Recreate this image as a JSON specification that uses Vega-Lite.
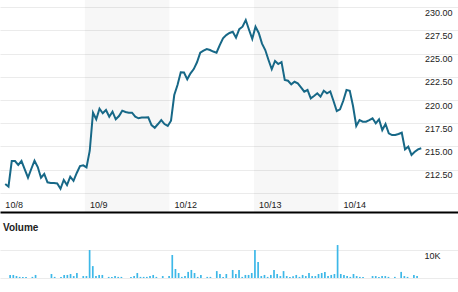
{
  "$schema": "https://vega.github.io/schema/vega-lite/v6.json",
  "padding": 0,
  "background": "white",
  "spacing": 11,
  "config": {
    "view": {"stroke": null},
    "font": "Liberation Sans",
    "axis": {"labelFont": "Liberation Sans", "labelColor": "#222222", "labelFontSize": 9}
  },
  "datasets": {
    "sessions": [
      {"day": "10/9", "start": 25.5, "end": 51.5},
      {"day": "10/13", "start": 77.5, "end": 103.5}
    ],
    "ticks": [
      {"i": 1, "p": 210.94, "v": 1100}, {"i": 2, "p": 210.65, "v": 1100}, {"i": 3, "p": 213.42, "v": 700}, {"i": 4, "p": 213.42, "v": 400}, {"i": 5, "p": 212.99, "v": 400},
      {"i": 6, "p": 213.42, "v": 400}, {"i": 7, "p": 212.52, "v": 0}, {"i": 8, "p": 211.62, "v": 400}, {"i": 9, "p": 212.56, "v": 1100}, {"i": 10, "p": 213.45, "v": 0},
      {"i": 11, "p": 212.77, "v": 0}, {"i": 12, "p": 211.62, "v": 0}, {"i": 13, "p": 212.02, "v": 0}, {"i": 14, "p": 211.12, "v": 1450}, {"i": 15, "p": 211.05, "v": 400},
      {"i": 16, "p": 211.05, "v": 0}, {"i": 17, "p": 211.0, "v": 400}, {"i": 18, "p": 210.43, "v": 1100}, {"i": 19, "p": 211.37, "v": 1100}, {"i": 20, "p": 210.83, "v": 1450},
      {"i": 21, "p": 211.73, "v": 700}, {"i": 22, "p": 211.29, "v": 1800}, {"i": 23, "p": 212.13, "v": 0}, {"i": 24, "p": 212.88, "v": 700}, {"i": 25, "p": 212.96, "v": 700},
      {"i": 26, "p": 212.74, "v": 10100}, {"i": 27, "p": 214.53, "v": 4300}, {"i": 28, "p": 218.63, "v": 700}, {"i": 29, "p": 217.92, "v": 1100}, {"i": 30, "p": 219.06, "v": 1100},
      {"i": 31, "p": 218.57, "v": 0}, {"i": 32, "p": 218.92, "v": 400}, {"i": 33, "p": 218.2, "v": 400}, {"i": 34, "p": 218.74, "v": 700}, {"i": 35, "p": 217.92, "v": 400},
      {"i": 36, "p": 218.27, "v": 400}, {"i": 37, "p": 218.85, "v": 0}, {"i": 38, "p": 218.71, "v": 0}, {"i": 39, "p": 218.63, "v": 400}, {"i": 40, "p": 218.63, "v": 700},
      {"i": 41, "p": 218.2, "v": 1800}, {"i": 42, "p": 218.03, "v": 400}, {"i": 43, "p": 218.11, "v": 400}, {"i": 44, "p": 218.12, "v": 400}, {"i": 45, "p": 218.13, "v": 700},
      {"i": 46, "p": 217.3, "v": 1100}, {"i": 47, "p": 217.01, "v": 400}, {"i": 48, "p": 217.41, "v": 0}, {"i": 49, "p": 217.84, "v": 700}, {"i": 50, "p": 217.41, "v": 0},
      {"i": 51, "p": 217.2, "v": 700},
      {"i": 52, "p": 217.77, "v": 8300}, {"i": 53, "p": 220.54, "v": 3250}, {"i": 54, "p": 221.62, "v": 1800}, {"i": 55, "p": 222.99, "v": 400}, {"i": 56, "p": 222.97, "v": 700},
      {"i": 57, "p": 222.23, "v": 2200}, {"i": 58, "p": 222.88, "v": 2900}, {"i": 59, "p": 223.34, "v": 1800}, {"i": 60, "p": 224.07, "v": 400}, {"i": 61, "p": 225.1, "v": 1100},
      {"i": 62, "p": 225.32, "v": 0}, {"i": 63, "p": 225.5, "v": 400}, {"i": 64, "p": 225.39, "v": 400}, {"i": 65, "p": 225.23, "v": 0}, {"i": 66, "p": 225.1, "v": 2500},
      {"i": 67, "p": 225.93, "v": 1450}, {"i": 68, "p": 226.66, "v": 400}, {"i": 69, "p": 227.01, "v": 1450}, {"i": 70, "p": 227.23, "v": 0}, {"i": 71, "p": 227.37, "v": 2900},
      {"i": 72, "p": 226.72, "v": 1450}, {"i": 73, "p": 227.64, "v": 2900}, {"i": 74, "p": 227.91, "v": 400}, {"i": 75, "p": 228.63, "v": 1100}, {"i": 76, "p": 227.58, "v": 1100},
      {"i": 77, "p": 226.6, "v": 1800},
      {"i": 78, "p": 227.91, "v": 10100}, {"i": 79, "p": 227.23, "v": 5800}, {"i": 80, "p": 226.08, "v": 700}, {"i": 81, "p": 225.39, "v": 1100}, {"i": 82, "p": 224.32, "v": 400},
      {"i": 83, "p": 223.32, "v": 1100}, {"i": 84, "p": 224.21, "v": 2900}, {"i": 85, "p": 223.88, "v": 1450}, {"i": 86, "p": 224.1, "v": 700}, {"i": 87, "p": 222.16, "v": 2500},
      {"i": 88, "p": 222.08, "v": 700}, {"i": 89, "p": 221.69, "v": 400}, {"i": 90, "p": 221.97, "v": 600}, {"i": 91, "p": 221.8, "v": 1100}, {"i": 92, "p": 221.37, "v": 400},
      {"i": 93, "p": 220.9, "v": 1100}, {"i": 94, "p": 221.08, "v": 700}, {"i": 95, "p": 220.18, "v": 1800}, {"i": 96, "p": 220.43, "v": 700}, {"i": 97, "p": 220.72, "v": 700},
      {"i": 98, "p": 220.36, "v": 1450}, {"i": 99, "p": 221.0, "v": 1800}, {"i": 100, "p": 220.72, "v": 2200}, {"i": 101, "p": 220.92, "v": 700}, {"i": 102, "p": 219.89, "v": 1100},
      {"i": 103, "p": 218.81, "v": 1450},
      {"i": 104, "p": 219.0, "v": 11900}, {"i": 105, "p": 219.92, "v": 1450}, {"i": 106, "p": 221.08, "v": 1100}, {"i": 107, "p": 221.0, "v": 700}, {"i": 108, "p": 219.35, "v": 400},
      {"i": 109, "p": 217.2, "v": 1450}, {"i": 110, "p": 217.84, "v": 700}, {"i": 111, "p": 217.66, "v": 400}, {"i": 112, "p": 217.66, "v": 400}, {"i": 113, "p": 217.84, "v": 0},
      {"i": 114, "p": 218.03, "v": 0}, {"i": 115, "p": 217.49, "v": 700}, {"i": 116, "p": 217.92, "v": 700}, {"i": 117, "p": 216.76, "v": 400}, {"i": 118, "p": 217.41, "v": 700},
      {"i": 119, "p": 216.41, "v": 700}, {"i": 120, "p": 216.22, "v": 400}, {"i": 121, "p": 216.22, "v": 0}, {"i": 122, "p": 216.33, "v": 400}, {"i": 123, "p": 216.47, "v": 0},
      {"i": 124, "p": 214.68, "v": 2200}, {"i": 125, "p": 214.96, "v": 700}, {"i": 126, "p": 214.07, "v": 400}, {"i": 127, "p": 214.42, "v": 0}, {"i": 128, "p": 214.68, "v": 1100},
      {"i": 129, "p": 214.79, "v": 700}
    ]
  },
  "vconcat": [
    {
      "width": 458,
      "height": 212,
      "layer": [
        {
          "data": {"name": "sessions"},
          "mark": {"type": "rect", "color": "#000000", "opacity": 0.032},
          "encoding": {
            "x": {
              "field": "start", "type": "quantitative",
              "scale": {"domain": [-0.615, 140.3], "nice": false, "zero": false},
              "axis": {
                "orient": "bottom", "title": null,
                "values": [-0.5, 25.5, 51.5, 77.5, 103.5],
                "labelExpr": "datum.value < 0 ? '10/8' : datum.value < 30 ? '10/9' : datum.value < 60 ? '10/12' : datum.value < 90 ? '10/13' : '10/14'",
                "grid": false, "ticks": false, "tickSize": 0,
                "domainColor": "#000000", "domainWidth": 2,
                "labelPadding": -5, "labelBaseline": "alphabetic", "labelAlign": "left", "labelOffset": 4.5,
                "labelFlush": false, "labelOverlap": false, "labelBound": false
              }
            },
            "x2": {"field": "end"}
          }
        },
        {
          "data": {"name": "ticks"},
          "mark": {"type": "line", "color": "#176887", "strokeWidth": 2},
          "encoding": {
            "x": {"field": "i", "type": "quantitative"},
            "y": {
              "field": "p", "type": "quantitative",
              "scale": {"domain": [207.92, 230.79], "nice": false, "zero": false},
              "axis": {
                "orient": "right", "title": null,
                "values": [210, 212.5, 215, 217.5, 220, 222.5, 225, 227.5, 230],
                "labelExpr": "datum.value < 211 ? '' : format(datum.value, '.2f')",
                "grid": true, "gridColor": "#ebebeb", "gridWidth": 1,
                "ticks": false, "tickSize": 0, "domain": false,
                "labelAlign": "right", "labelBaseline": "top", "labelPadding": -6, "labelOffset": 1,
                "labelFlush": false, "labelOverlap": false, "labelBound": false
              }
            }
          }
        }
      ]
    },
    {
      "width": 458,
      "height": 37,
      "title": {"text": "Volume", "anchor": "start", "fontSize": 10, "fontWeight": "bold", "color": "#222222", "font": "Liberation Sans", "dx": 3, "offset": 8},
      "data": {"name": "ticks"},
      "mark": {"type": "bar", "color": "#3db8e8", "width": 1.7},
      "encoding": {
        "x": {"field": "i", "type": "quantitative", "scale": {"domain": [-0.615, 140.3], "nice": false, "zero": false}, "axis": null},
        "y": {
          "field": "v", "type": "quantitative",
          "scale": {"domain": [0, 13357], "nice": false},
          "axis": {
            "orient": "right", "title": null,
            "values": [0, 10000],
            "labelExpr": "datum.value == 10000 ? '10K' : ''",
            "grid": true, "gridColor": "#ebebeb",
            "ticks": false, "tickSize": 0, "domain": false,
            "labelAlign": "right", "labelBaseline": "top", "labelPadding": -18, "labelOffset": 1,
            "labelFlush": false, "labelOverlap": false, "labelBound": false
          }
        }
      }
    }
  ]
}
